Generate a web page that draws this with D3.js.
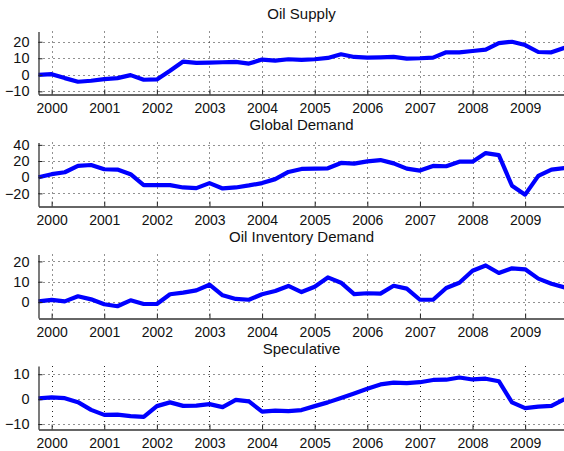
<!DOCTYPE html>
<html>
<head>
<meta charset="utf-8">
<script src="https://cdn.jsdelivr.net/npm/d3@7"></script>
<style>
  body { margin: 0; background: #fff; }
  svg { display: block; font-family: Arial, "Liberation Sans", sans-serif; }
</style>
</head>
<body>
<svg id="chart"></svg>
<script>
// quarterly dates (decimal years)
const quarters = [1999.75, 2000, 2000.25, 2000.5, 2000.75, 2001, 2001.25, 2001.5, 2001.75,
  2002, 2002.25, 2002.5, 2002.75, 2003, 2003.25, 2003.5, 2003.75,
  2004, 2004.25, 2004.5, 2004.75, 2005, 2005.25, 2005.5, 2005.75,
  2006, 2006.25, 2006.5, 2006.75, 2007, 2007.25, 2007.5, 2007.75,
  2008, 2008.25, 2008.5, 2008.75, 2009, 2009.25, 2009.5, 2009.75];

const yearTicks = [2000, 2001, 2002, 2003, 2004, 2005, 2006, 2007, 2008, 2009];

const titles = ['Oil Supply', 'Global Demand', 'Oil Inventory Demand', 'Speculative'];

const oilSupply = [0, 0.4, -2, -4.2, -3.6, -2.6, -2, -0.2, -3, -2.8,
  2.4, 8, 7.2, 7.4, 7.6, 7.8, 6.8, 9.2, 8.6, 9.4,
  9, 9.4, 10.2, 12.4, 10.8, 10.4, 10.6, 10.8, 9.8, 10,
  10.4, 13.6, 13.6, 14.4, 15.2, 19.2, 20, 18, 13.8, 13.6, 16.4];

const globalDemand = [0, 3.7, 6.1, 13.9, 15.1, 9.8, 9.4, 3.7, -9.8, -9.8,
  -9.8, -12.7, -13.5, -7.3, -13.9, -12.7, -10.2, -7.3, -2.4, 6.5,
  10.2, 10.6, 11, 17.6, 16.7, 19.6, 21.2, 17.1, 10.6, 8.2,
  13.9, 13.5, 19.2, 19.2, 29.8, 27.3, -10.6, -21.6, 1.6, 9.4, 11.4];

const inventoryDemand = [0.3, 1, 0.3, 2.8, 1.3, -1.1, -2.1, 0.8, -1, -1,
  3.8, 4.6, 5.7, 8.5, 3.3, 1.5, 1.1, 3.8, 5.4, 7.9,
  4.9, 7.5, 12.1, 9.5, 3.9, 4.3, 4.1, 8, 6.6, 1.1,
  1.1, 6.9, 9.5, 15.4, 18, 14.3, 16.6, 16.1, 11.5, 9, 7.2];

const speculative = [0.3, 0.7, 0.4, -1.2, -4.3, -6.3, -6.2, -6.8, -7.1, -2.8,
  -1.3, -2.7, -2.6, -2, -3.2, -0.3, -0.9, -5, -4.6, -4.8,
  -4.4, -2.8, -1.3, 0.5, 2.3, 4.2, 5.9, 6.6, 6.4, 6.8,
  7.7, 7.8, 8.7, 7.9, 8.2, 7.2, -1.3, -3.6, -3, -2.7, 0];

const yTicks = [[-10, 0, 10, 20], [-20, 0, 20, 40], [0, 10, 20], [-10, 0, 10]];

const series = [oilSupply, globalDemand, inventoryDemand, speculative];

// layout
const width = 564;
const height = 451;
const left = 38.5;
const right = 564.6;
const panels = [
  { top: 31.5, bottom: 94.3, domain: [-11.8, 26.2] },
  { top: 142.5, bottom: 206.3, domain: [-36, 42.9] },
  { top: 254.5, bottom: 318, domain: [-7.9, 23.4] },
  { top: 366, bottom: 429.3, domain: [-12.1, 13.3] }
];

const svg = d3.select('#chart')
  .attr('width', width)
  .attr('height', height);

const x = d3.scaleLinear()
  .domain([1999.75, 2009.75])
  .range([left, right]);

panels.forEach((p, k) => {
  const y = d3.scaleLinear()
    .domain(p.domain)
    .range([p.bottom, p.top]);

  const g = svg.append('g');

  // dotted grid
  g.selectAll('.vgrid')
    .data(yearTicks)
    .enter().append('line')
    .attr('x1', d => Math.round(x(d)) + 0.5)
    .attr('x2', d => Math.round(x(d)) + 0.5)
    .attr('y1', p.top)
    .attr('y2', p.bottom)
    .attr('stroke', '#222')
    .attr('stroke-width', 1)
    .attr('stroke-dasharray', '1,4');

  g.selectAll('.hgrid')
    .data(yTicks[k])
    .enter().append('line')
    .attr('x1', left)
    .attr('x2', right)
    .attr('y1', d => Math.round(y(d)) + 0.5)
    .attr('y2', d => Math.round(y(d)) + 0.5)
    .attr('stroke', '#222')
    .attr('stroke-width', 1)
    .attr('stroke-dasharray', '1,4');

  // data line
  const line = d3.line()
    .x((d, i) => x(quarters[i]))
    .y(d => y(d));

  g.append('path')
    .datum(series[k])
    .attr('d', line)
    .attr('fill', 'none')
    .attr('stroke', '#0000ff')
    .attr('stroke-width', 4.2)
    .attr('stroke-linejoin', 'round')
    .attr('stroke-linecap', 'butt');

  // axes
  const xAxis = d3.axisBottom(x)
    .tickValues(yearTicks)
    .tickFormat(d3.format('d'))
    .tickSizeInner(-5)
    .tickSizeOuter(0)
    .tickPadding(9);

  const gx = g.append('g')
    .attr('transform', `translate(0, ${Math.round(p.bottom) + 0.5})`)
    .call(xAxis);

  const yAxis = d3.axisLeft(y)
    .tickValues(yTicks[k])
    .tickSizeInner(-4)
    .tickSizeOuter(0)
    .tickPadding(9);

  const gy = g.append('g')
    .attr('transform', `translate(${Math.round(left) - 0.5}, 0)`)
    .call(yAxis);

  [gx, gy].forEach(a => {
    a.select('.domain').attr('stroke', '#333').attr('stroke-width', 1.3);
    a.selectAll('.tick line').attr('stroke', '#222');
    a.selectAll('.tick text')
      .attr('fill', '#111')
      .style('font-size', '14.5px')
      .style('font-family', 'Arial, "Liberation Sans", sans-serif');
  });
  gx.selectAll('.tick text').style('font-size', '14px');

  // title
  svg.append('text')
    .attr('x', (left + right) / 2)
    .attr('y', p.top - 12.5)
    .attr('text-anchor', 'middle')
    .attr('fill', '#111')
    .style('font-size', '15px')
    .text(titles[k]);
});
</script>
</body>
</html>
